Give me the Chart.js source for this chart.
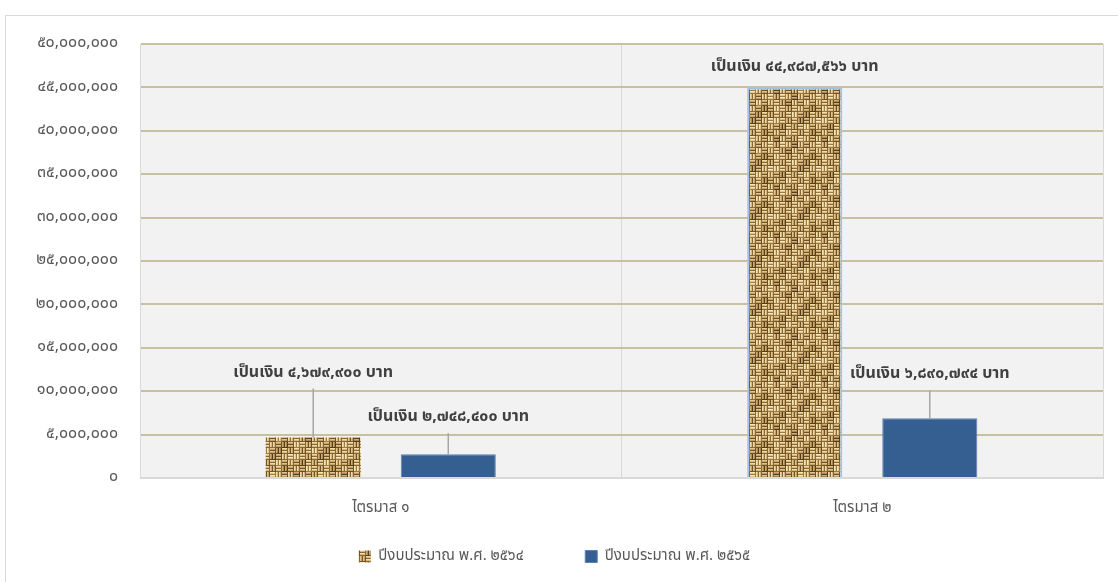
<!DOCTYPE html>
<html>
<head>
<meta charset="utf-8">
<script src="https://cdn.jsdelivr.net/npm/chart.js@4"></script>
<style>
  html, body { margin: 0; padding: 0; background: #fff; overflow: hidden; }
  #frame {
    position: absolute; left: 5px; top: 15px;
    width: 1112px; height: 566px;
    border-left: 1px solid #d9d9d9; border-top: 1px solid #d9d9d9;
  }
  #budget-chart { display: block; }
</style>
</head>
<body>
<div id="frame"><canvas id="budget-chart" width="1112" height="566"></canvas></div>
<script>
  // Chart data
  const quarters = ['ไตรมาส ๑', 'ไตรมาส ๒'];
  const seriesNames = ['ปีงบประมาณ พ.ศ. ๒๕๖๔', 'ปีงบประมาณ พ.ศ. ๒๕๖๕'];
  const budget2564 = [4679900, 44987566];
  const budget2565 = [2748400, 6890794];
  const yMax = 50000000;
  const yStep = 5000000;

  // label offset above bar top (px), per dataset / per bar
  const labelLift = [[64, 20], [36, 43]];

  const FONT = 'Tahoma, "Noto Sans Thai", "Noto Sans", sans-serif';
  const THAI_DIGITS = '๐๑๒๓๔๕๖๗๘๙';
  function toThai(n) {
    return n.toLocaleString('en-US').replace(/[0-9]/g, d => THAI_DIGITS[d]);
  }

  // Burlap-ish basket weave texture for the 2564 series
  function makeBurlap() {
    const C = 6, N = 8;
    // fixed shading map so the weave looks a bit blotchy
    const shade = [
      0, 1, 0, 2, 1, 3, 0, 1,
      2, 0, 1, 0, 3, 1, 0, 2,
      1, 3, 0, 1, 0, 2, 1, 0,
      0, 1, 2, 0, 1, 0, 3, 1,
      3, 0, 1, 1, 2, 0, 1, 0,
      1, 2, 0, 3, 0, 1, 0, 2,
      0, 1, 3, 0, 1, 2, 1, 0,
      2, 0, 1, 0, 0, 1, 3, 1,
    ];
    const tones = [
      ['#f1dca6', '#d6b87c', '#86663a'],
      ['#e2c58b', '#c4a266', '#6f5129'],
      ['#f7e8bc', '#e2c68e', '#9c7a45'],
      ['#cfae72', '#a98850', '#553c1c'],
    ];
    const t = document.createElement('canvas');
    t.width = C * N; t.height = C * N;
    const c = t.getContext('2d');
    for (let by = 0; by < N; by++) {
      for (let bx = 0; bx < N; bx++) {
        const x = bx * C, y = by * C;
        const tone = tones[shade[by * N + bx]];
        const horiz = (bx + by) % 2 === 0;
        for (let s = 0; s < 2; s++) {
          const o = s * 3;
          for (let k = 0; k < 3; k++) {
            c.fillStyle = tone[k];
            if (horiz) c.fillRect(x, y + o + k, C, 1);
            else c.fillRect(x + o + k, y, 1, C);
          }
        }
        c.fillStyle = tone[2];
        if (horiz) c.fillRect(x + C - 1, y, 1, C);
        else c.fillRect(x, y + C - 1, C, 1);
      }
    }
    return c.createPattern(t, 'repeat');
  }

  const plotBg = {
    id: 'plotBg',
    beforeDraw(chart) {
      const { ctx, chartArea: a } = chart;
      ctx.save();
      ctx.fillStyle = '#f2f2f2';
      ctx.fillRect(a.left, a.top, a.right - a.left, a.bottom - a.top);
      ctx.restore();
    }
  };

  const valueLabels = {
    id: 'valueLabels',
    afterDatasetsDraw(chart) {
      const ctx = chart.ctx;
      ctx.save();
      ctx.font = 'bold 16px ' + FONT;
      ctx.fillStyle = '#404040';
      ctx.textAlign = 'center';
      ctx.textBaseline = 'middle';
      chart.data.datasets.forEach((ds, di) => {
        chart.getDatasetMeta(di).data.forEach((bar, i) => {
          const lift = labelLift[di][i];
          const ly = bar.y - lift;
          if (lift > 30) {
            ctx.strokeStyle = '#a6a6a6';
            ctx.lineWidth = 1.5;
            ctx.beginPath();
            ctx.moveTo(bar.x, ly + 15);
            ctx.lineTo(bar.x, bar.y);
            ctx.stroke();
          }
          ctx.fillText('เป็นเงิน ' + toThai(ds.data[i]) + ' บาท', bar.x, ly);
        });
      });
      ctx.restore();
    }
  };

  const ctx = document.getElementById('budget-chart').getContext('2d');
  new Chart(ctx, {
    type: 'bar',
    data: {
      labels: quarters,
      datasets: [
        {
          label: seriesNames[0],
          data: budget2564,
          backgroundColor: makeBurlap(),
          borderColor: ['rgba(0,0,0,0)', '#9dc3e6'],
          borderWidth: [0, 2],
        },
        {
          label: seriesNames[1],
          data: budget2565,
          backgroundColor: '#355f91',
          borderColor: '#5b82b5',
          borderWidth: 1,
        },
      ],
    },
    options: {
      responsive: false,
      animation: false,
      categoryPercentage: 0.561,
      barPercentage: 0.704,
      layout: { padding: { top: 28, right: 15, left: 0, bottom: 8 } },
      scales: {
        x: {
          grid: { color: '#d9d9d9', lineWidth: 1, drawTicks: false },
          border: { color: '#d9d9d9' },
          ticks: {
            color: '#595959',
            padding: 22,
            font: { family: FONT, size: 15 },
          },
        },
        y: {
          min: 0,
          max: yMax,
          afterFit(scale) {
            scale.width = 134;
            scale.paddingTop = 10;
            scale.paddingBottom = 10;
          },
          grid: {
            color: ctx => ctx.tick.value === 0 ? '#d9d9d9' : '#c9c09f',
            lineWidth: 2,
            drawTicks: false,
          },
          border: { color: '#d9d9d9' },
          ticks: {
            stepSize: yStep,
            color: '#595959',
            padding: 22,
            font: { family: FONT, size: 16 },
            callback: v => toThai(v),
          },
        },
      },
      plugins: {
        legend: {
          position: 'bottom',
          labels: {
            boxWidth: 12,
            boxHeight: 12,
            padding: 9,
            color: '#595959',
            font: { family: FONT, size: 15 },
            generateLabels(chart) {
              const items = Chart.defaults.plugins.legend.labels.generateLabels(chart);
              // widen the gap between the two legend entries
              if (items.length > 1) items[0].text += '\u2003\u2003\u2003\u2002';
              return items;
            },
          },
        },
        tooltip: { enabled: false },
      },
    },
    plugins: [plotBg, valueLabels],
  });
</script>
</body>
</html>
